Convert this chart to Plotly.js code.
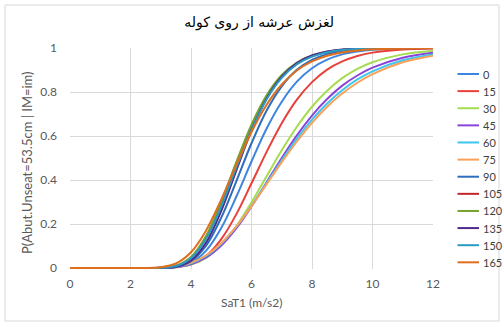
<!DOCTYPE html>
<html>
<head>
<meta charset="utf-8">
<script src="https://cdn.plot.ly/plotly-3.0.1.min.js"></script>
<style>
  html, body { margin: 0; padding: 0; background: #ffffff; }
  #chart { width: 504px; height: 327px; }
</style>
</head>
<body>
<div id="chart"></div>
<script>
// ---- data ----
const xs = [0, 1, 2, 2.5, 3, 3.5, 4, 4.5, 5, 5.5, 6, 6.5, 7, 7.5, 8, 8.5, 9, 9.5, 10, 11, 12];

const seriesNames = ['0', '15', '30', '45', '60', '75', '90', '105', '120', '135', '150', '165'];

const s0   = [0,0,0,0,0.0004,0.0046,0.0244,0.0793,0.182,0.325,0.484,0.634,0.756,0.847,0.908,0.947,0.971,0.984,0.992,0.998,0.999];
const s15  = [0,0,0,0,0.0003,0.003,0.0163,0.0547,0.131,0.245,0.385,0.528,0.658,0.765,0.845,0.902,0.939,0.964,0.979,0.993,0.998];
const s30  = [0,0,0,0,0.0005,0.0036,0.0157,0.0465,0.104,0.19,0.298,0.417,0.535,0.642,0.733,0.806,0.863,0.905,0.935,0.971,0.988];
const s45  = [0,0,0,0,0.0007,0.0045,0.0173,0.0478,0.102,0.181,0.280,0.390,0.500,0.603,0.693,0.768,0.829,0.875,0.911,0.956,0.979];
const s60  = [0,0,0,0,0.0011,0.0062,0.0215,0.0545,0.110,0.188,0.282,0.386,0.490,0.588,0.674,0.748,0.808,0.857,0.894,0.944,0.971];
const s75  = [0,0,0,0,0.0015,0.0074,0.0239,0.058,0.113,0.189,0.281,0.381,0.481,0.575,0.660,0.733,0.793,0.842,0.881,0.935,0.965];
const s90  = [0,0,0,0,0.0005,0.0058,0.0316,0.102,0.229,0.395,0.567,0.716,0.826,0.901,0.946,0.972,0.986,0.993,0.997,0.999,1];
const s105 = [0,0,0,0,0.0009,0.0094,0.0465,0.137,0.285,0.464,0.635,0.772,0.868,0.928,0.963,0.982,0.991,0.996,0.998,1,1];
const s120 = [0,0,0,0,0.001,0.0106,0.0505,0.147,0.301,0.482,0.652,0.785,0.877,0.934,0.966,0.983,0.992,0.996,0.998,1,1];
const s135 = [0,0,0,0,0.0004,0.0059,0.0345,0.116,0.260,0.444,0.624,0.770,0.870,0.932,0.966,0.984,0.993,0.997,0.999,1,1];
const s150 = [0,0,0,0,0.0008,0.0089,0.0446,0.133,0.279,0.457,0.628,0.767,0.864,0.926,0.961,0.981,0.991,0.996,0.998,1,1];
const s165 = [0,0,0,0,0.0033,0.0205,0.0717,0.171,0.311,0.469,0.618,0.742,0.834,0.898,0.939,0.965,0.980,0.989,0.994,0.998,0.9995];

const xTicks = [0, 2, 4, 6, 8, 10, 12];
const yTicks = [0, 0.2, 0.4, 0.6, 0.8, 1];

const titleText = 'لغزش عرشه از روی کوله';
const xTitle = 'SaT1 (m/s2)';
const yTitle = 'P(Abut.Unseat=53.5cm | IM=im)';

// ---- styling ----
const allSeries = [s0, s15, s30, s45, s60, s75, s90, s105, s120, s135, s150, s165];
const colors = ['#3d85e0', '#e8413c', '#a6dc4f', '#8a45d8', '#3ec6ee', '#f9a05a',
                '#2f6eba', '#c0282d', '#77a22f', '#4e2a8a', '#2b9ac4', '#de6f1e'];

const FONT = 'Lato, "Open Sans", "Liberation Sans", sans-serif';
const L = 70, R = 71, T = 48, B = 58;
const W = 504, H = 327;
const Y0 = -0.0045, Y1 = 1;
const plotW = W - L - R, plotH = H - T - B;
// pixel -> paper helpers for the custom legend / decorations
const px2x = p => (p - L) / plotW;
const py2y = p => (H - B - p) / plotH;

const traces = allSeries.map((ys, i) => ({
  type: 'scatter',
  mode: 'lines',
  name: seriesNames[i],
  x: xs,
  y: ys,
  line: { color: colors[i], width: 2, shape: 'spline', smoothing: 1 },
  showlegend: false,
  hoverinfo: 'skip'
}));

// custom legend (Excel-like compact spacing)
const shapes = [];
const annotations = [];
const legTop = 74, legStep = 17.12;
seriesNames.forEach((n, i) => {
  const py = legTop + i * legStep;
  shapes.push({
    type: 'line', xref: 'paper', yref: 'paper',
    x0: px2x(457.5), x1: px2x(479), y0: py2y(py), y1: py2y(py),
    line: { color: colors[i], width: 2 }
  });
  annotations.push({
    xref: 'paper', yref: 'paper', x: px2x(480.5), y: py2y(py),
    xanchor: 'left', yanchor: 'middle', showarrow: false, text: n,
    font: { family: FONT, size: 11, color: '#404040' }
  });
});

// chart area border
shapes.push({
  type: 'rect', xref: 'paper', yref: 'paper',
  x0: px2x(5), x1: px2x(499), y0: py2y(5), y1: py2y(321),
  line: { color: '#d9d9d9', width: 1 }, layer: 'below'
});

// axis titles
annotations.push({
  xref: 'paper', yref: 'paper', x: 0.5, y: py2y(302.7),
  xanchor: 'center', yanchor: 'middle', showarrow: false, text: xTitle,
  font: { family: FONT, size: 12, color: '#595959' }
});
annotations.push({
  xref: 'paper', yref: 'paper', x: px2x(27), y: py2y(163),
  xanchor: 'center', yanchor: 'middle', showarrow: false, text: yTitle, textangle: -90,
  font: { family: FONT, size: 13, color: '#595959' }
});

const layout = {
  width: W, height: H,
  margin: { l: L, r: R, t: T, b: B, pad: 0 },
  paper_bgcolor: '#ffffff', plot_bgcolor: '#ffffff',
  showlegend: false,
  title: {
    text: titleText, x: 0.514, xref: 'container', xanchor: 'center',
    y: 1 - 22 / H, yref: 'container', yanchor: 'middle',
    font: { family: '"DejaVu Sans", "Liberation Sans", sans-serif', size: 14, color: '#000000' }
  },
  xaxis: {
    range: [0, 12], tickvals: xTicks, ticktext: xTicks.map(String),
    showgrid: true, gridcolor: '#d9d9d9', gridwidth: 1,
    zeroline: false, showline: false,
    ticks: '', ticklabelstandoff: 6,
    tickfont: { family: FONT, size: 12, color: '#595959' },
    fixedrange: true
  },
  yaxis: {
    range: [Y0, Y1], tickvals: yTicks, ticktext: yTicks.map(v => String(v)),
    showgrid: true, gridcolor: '#d9d9d9', gridwidth: 1,
    zeroline: false, showline: false,
    ticks: '', ticklabelstandoff: 12,
    tickfont: { family: FONT, size: 12, color: '#595959' },
    fixedrange: true
  },
  shapes: shapes,
  annotations: annotations
};

Plotly.newPlot('chart', traces, layout, { displayModeBar: false, staticPlot: true });
</script>
</body>
</html>
